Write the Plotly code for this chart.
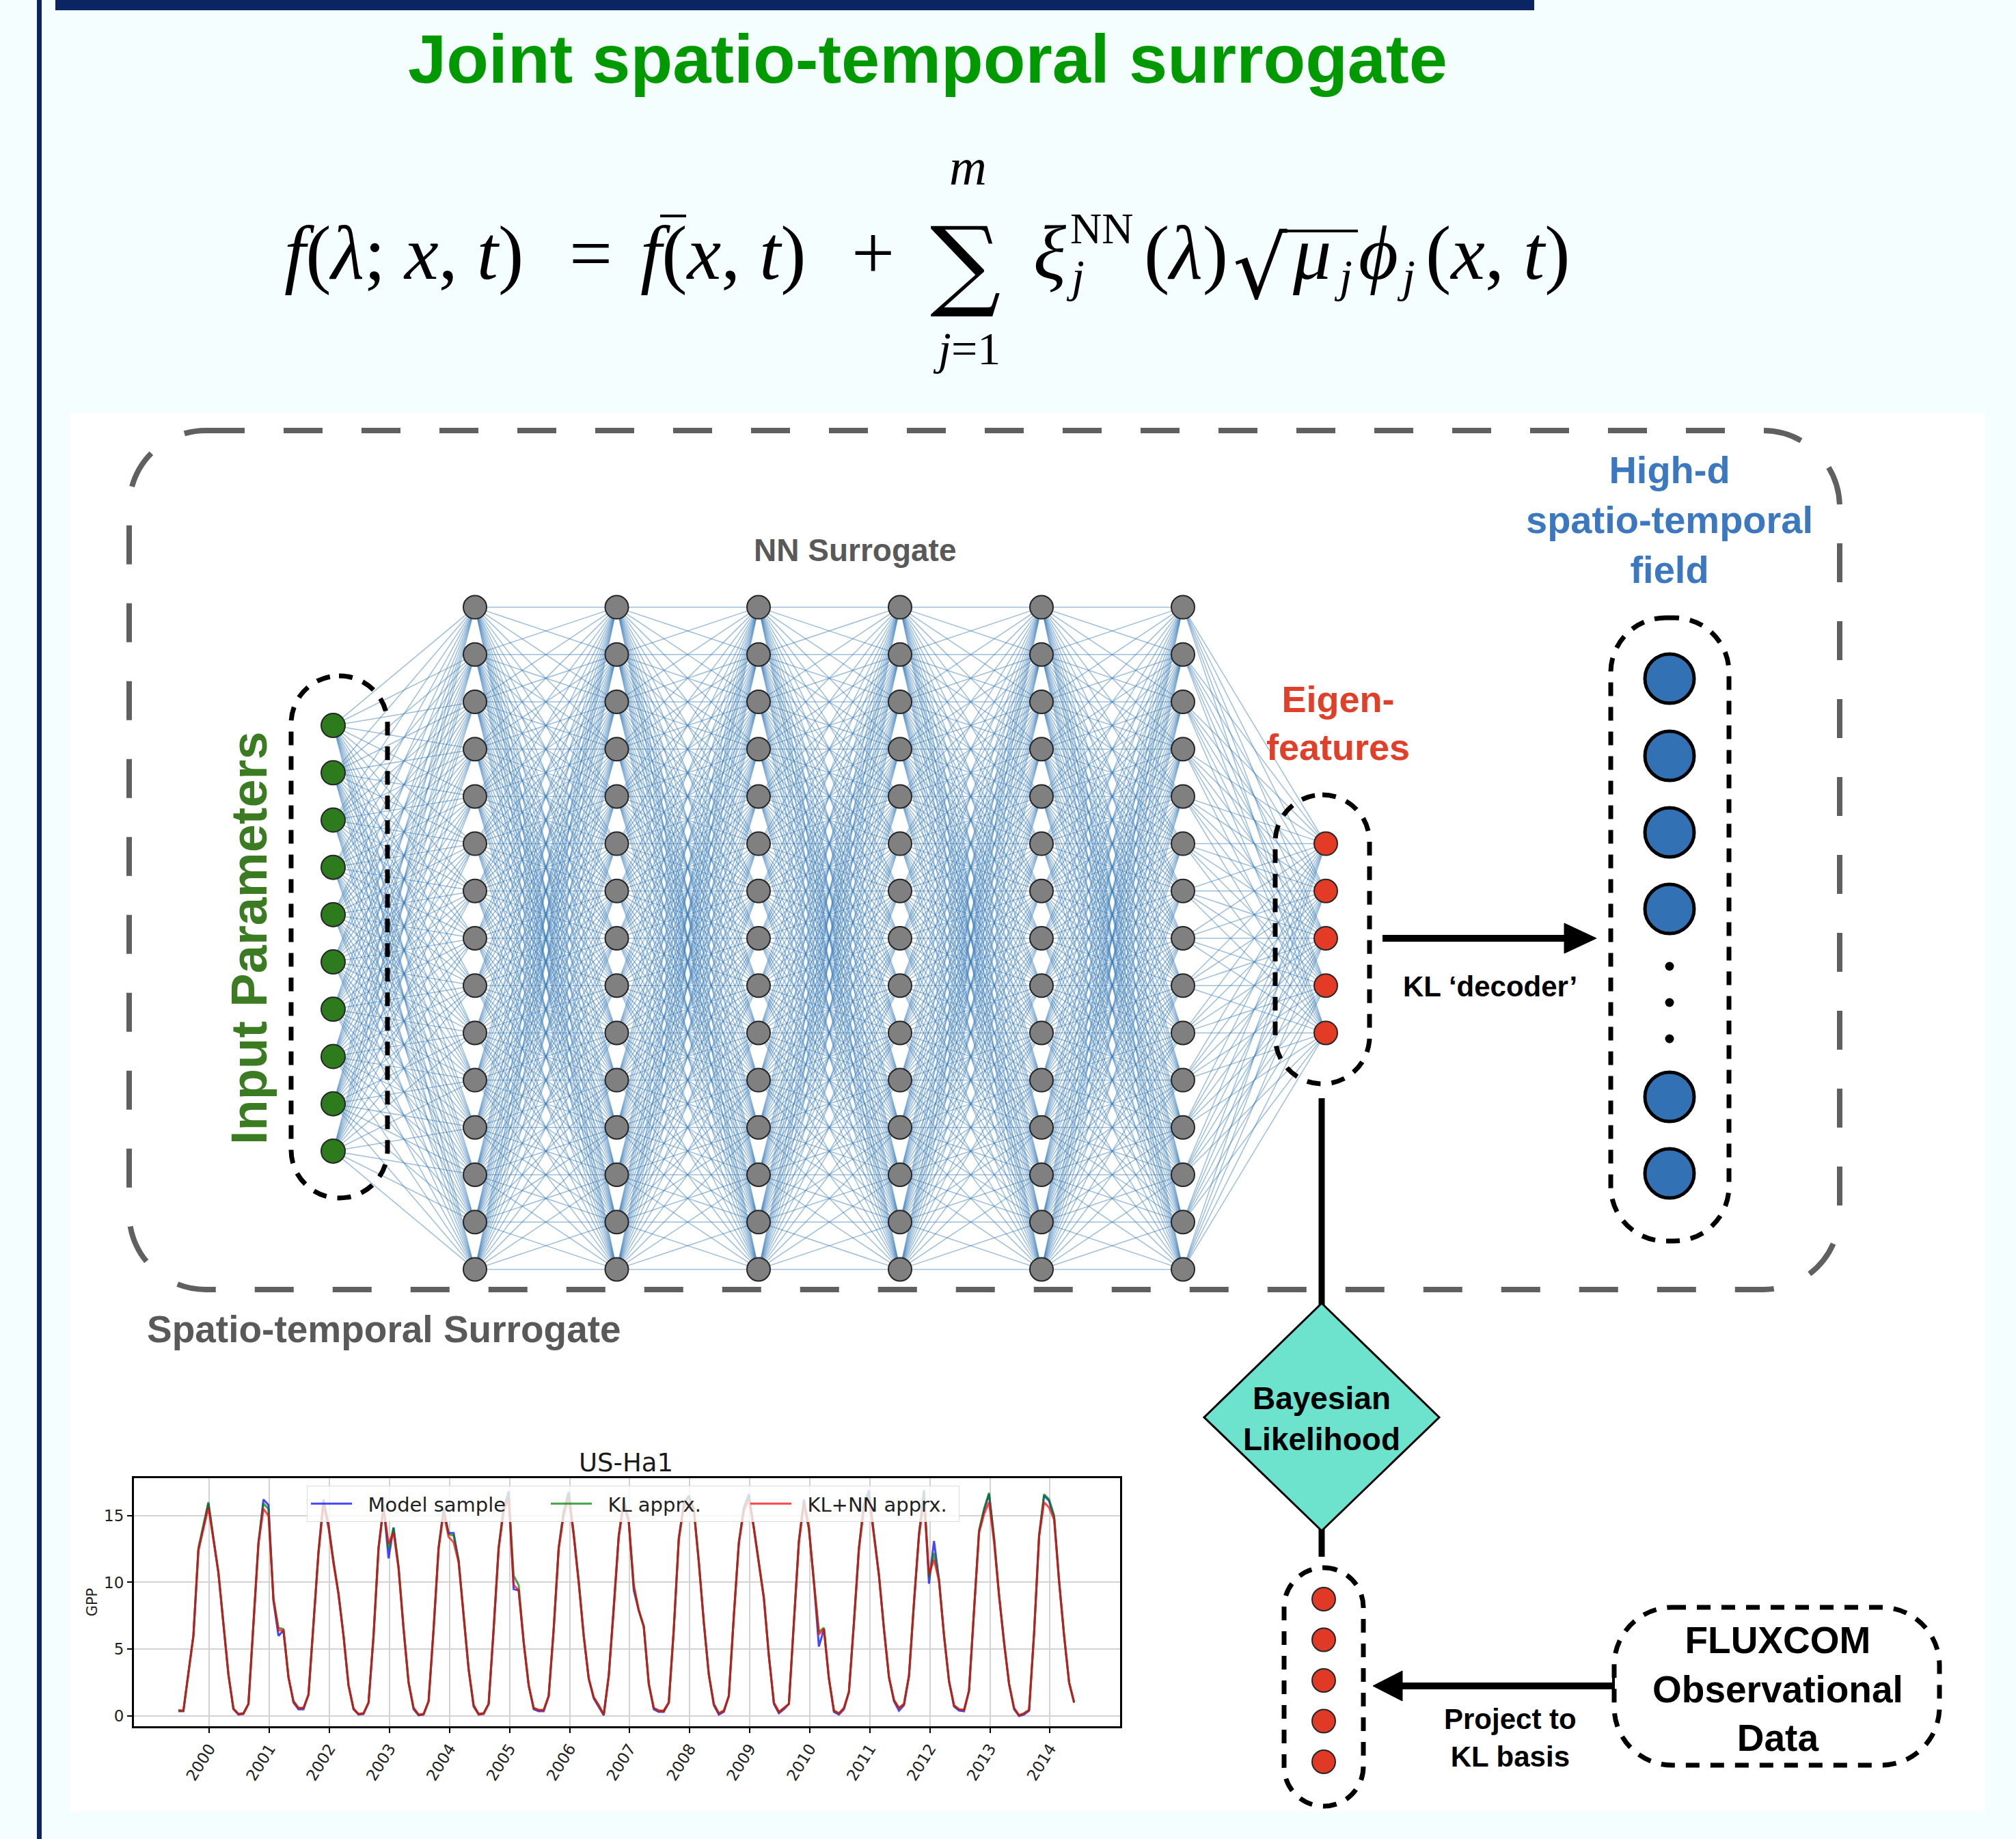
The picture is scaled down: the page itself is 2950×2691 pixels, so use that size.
import plotly.graph_objects as go

W, H = 2950, 2691

# ---------------- data ----------------
layer_sizes = [10, 15, 15, 15, 15, 15, 15, 5]      # input, 6 hidden, eigen-features
field_nodes = 6                                      # drawn high-d nodes (4 + dots + 2)
field_dots = 3
observed_nodes = 5

years = list(range(2000, 2015))
year_labels = [str(y) for y in years]
gpp_ticks = [0, 5, 10, 15]
gpp_tick_labels = ["0", "5", "10", "15"]
first_month = 1999.485     # decimal year of first monthly sample

model_sample = [
    0.35, 0.35, 3.2, 6.0, 12.4, 14.1, 15.9, 13.3, 10.7, 6.9, 3.1, 0.5,
    0.1, 0.15, 0.9, 6.9, 12.9, 16.2, 15.8, 8.6, 6.0, 6.4, 2.9, 1.0,
    0.5, 0.5, 1.6, 6.9, 12.3, 16.2, 14.3, 11.5, 9.1, 6.0, 2.3, 0.5,
    0.1, 0.15, 1.0, 6.0, 12.6, 15.8, 11.8, 14.1, 11.1, 6.5, 2.5, 0.5,
    0.05, 0.1, 1.1, 6.5, 12.6, 15.5, 13.7, 13.7, 11.6, 7.5, 3.5, 0.7,
    0.1, 0.15, 0.9, 6.5, 12.6, 15.6, 16.8, 9.5, 9.4, 5.5, 2.3, 0.5,
    0.35, 0.35, 1.5, 6.5, 12.6, 15.3, 16.7, 13.6, 10.0, 6.0, 2.8, 1.3,
    0.7, 0.05, 3.0, 8.0, 13.5, 16.2, 14.6, 9.4, 7.9, 6.7, 2.4, 0.5,
    0.3, 0.3, 1.0, 6.5, 13.3, 15.9, 16.5, 15.5, 11.5, 7.0, 3.1, 0.8,
    0.1, 0.3, 1.5, 7.5, 13.0, 15.6, 16.6, 14.1, 11.5, 8.8, 4.5, 0.9,
    0.2, 0.5, 0.9, 7.0, 13.1, 16.2, 14.1, 10.0, 5.2, 6.5, 2.8, 0.3,
    0.1, 0.5, 1.8, 7.0, 12.6, 15.9, 16.9, 13.6, 10.5, 6.5, 2.9, 1.1,
    0.4, 0.8, 3.0, 8.5, 13.6, 16.9, 9.9, 13.1, 10.2, 6.0, 2.6, 0.7,
    0.4, 0.35, 1.9, 7.9, 13.8, 15.4, 16.6, 13.3, 9.0, 5.5, 2.4, 0.5,
    0.0, 0.1, 0.4, 6.2, 13.5, 16.5, 16.1, 14.9, 10.1, 6.0, 2.5, 1.0,
]
kl_apprx = [
    0.4, 0.4, 3.2, 6.0, 12.6, 14.3, 16.0, 13.3, 10.8, 6.9, 3.1, 0.55,
    0.15, 0.2, 0.9, 6.9, 13.0, 15.9, 15.5, 8.7, 6.6, 6.5, 2.9, 1.1,
    0.6, 0.6, 1.6, 6.9, 12.3, 16.2, 14.3, 11.6, 9.2, 6.0, 2.3, 0.55,
    0.15, 0.2, 1.0, 6.0, 12.6, 15.7, 12.5, 14.1, 11.2, 6.6, 2.5, 0.6,
    0.1, 0.15, 1.1, 6.5, 12.6, 15.4, 13.6, 13.5, 11.7, 7.6, 3.5, 0.8,
    0.15, 0.2, 0.9, 6.5, 12.6, 15.5, 16.6, 10.5, 9.8, 5.6, 2.3, 0.6,
    0.45, 0.45, 1.5, 6.5, 12.6, 15.3, 16.8, 13.7, 10.1, 6.0, 2.8, 1.4,
    0.8, 0.1, 3.0, 8.0, 13.5, 16.1, 14.6, 9.7, 7.9, 6.7, 2.4, 0.6,
    0.4, 0.4, 1.0, 6.5, 13.3, 15.8, 16.4, 15.5, 11.6, 7.0, 3.1, 0.9,
    0.2, 0.4, 1.5, 7.5, 13.0, 15.5, 16.5, 14.1, 11.6, 8.9, 4.5, 1.0,
    0.3, 0.6, 0.9, 7.0, 13.1, 16.1, 14.1, 10.1, 6.3, 6.6, 2.8, 0.4,
    0.2, 0.6, 1.8, 7.0, 12.6, 15.8, 16.6, 13.6, 10.6, 6.5, 2.9, 1.2,
    0.6, 0.9, 3.0, 8.5, 13.6, 16.8, 10.4, 12.2, 10.2, 6.1, 2.6, 0.8,
    0.5, 0.45, 1.9, 7.9, 13.9, 15.5, 16.7, 13.4, 9.1, 5.5, 2.4, 0.6,
    0.05, 0.2, 0.45, 6.2, 13.5, 16.6, 16.2, 15.0, 10.1, 6.0, 2.5, 1.0,
]
kl_nn_apprx = [
    0.45, 0.40, 3.2, 6.0, 12.4, 14.0, 15.6, 13.2, 10.7, 6.9, 3.1, 0.55,
    0.15, 0.20, 0.9, 6.9, 12.9, 15.5, 15.0, 8.8, 6.4, 6.4, 2.9, 1.1,
    0.6, 0.6, 1.6, 6.9, 12.2, 15.8, 14.1, 11.4, 9.1, 6.0, 2.3, 0.55,
    0.15, 0.2, 1.0, 6.0, 12.5, 15.5, 12.9, 13.7, 11.0, 6.5, 2.5, 0.6,
    0.1, 0.15, 1.1, 6.5, 12.5, 15.2, 13.4, 13.0, 11.5, 7.5, 3.5, 0.8,
    0.15, 0.2, 0.9, 6.5, 12.5, 15.3, 16.3, 9.8, 9.4, 5.5, 2.3, 0.6,
    0.45, 0.45, 1.5, 6.5, 12.5, 15.0, 16.3, 13.5, 10.0, 6.0, 2.8, 1.4,
    0.8, 0.1, 3.0, 8.0, 13.4, 15.8, 14.5, 9.8, 7.9, 6.7, 2.4, 0.6,
    0.4, 0.4, 1.0, 6.5, 13.2, 15.6, 16.0, 15.4, 11.5, 7.0, 3.1, 0.9,
    0.2, 0.4, 1.5, 7.5, 12.9, 15.3, 16.2, 14.0, 11.5, 8.8, 4.5, 1.0,
    0.3, 0.6, 0.9, 7.0, 13.0, 15.8, 14.0, 10.0, 6.1, 6.5, 2.8, 0.4,
    0.2, 0.6, 1.8, 7.0, 12.5, 15.5, 16.2, 13.5, 10.5, 6.5, 2.9, 1.2,
    0.6, 0.9, 3.0, 8.5, 13.5, 16.0, 10.6, 11.7, 10.1, 6.0, 2.6, 0.8,
    0.5, 0.45, 1.9, 7.9, 13.7, 15.1, 16.0, 13.0, 9.0, 5.5, 2.4, 0.6,
    0.05, 0.2, 0.45, 6.2, 13.4, 16.0, 15.6, 14.7, 10.0, 6.0, 2.5, 1.0,
]
series_names = ["Model sample", "KL apprx.", "KL+NN apprx."]
series_colors = ["rgba(0,0,255,0.72)", "rgba(0,128,0,0.72)", "rgba(255,0,0,0.72)"]

# ---------------- styling / geometry ----------------
SANS = "Liberation Sans, Arial, sans-serif"
SERIF = "Liberation Serif, Times New Roman, serif"
NAVY = "#0b2563"
BG = "#f5fefe"
legend_entry_px = [276, 217, 235]
NBSP = "\u00a0\u00a0"

layer_x = [487.5, 695, 902.5, 1110, 1317, 1524, 1731, 1940]
node_gap = 69.2
net_cy = 1373
layer_fill = ["#2e7b1e"] + ["#808080"] * 6 + ["#e33b26"]
layer_size_px = [35] + [34] * 6 + [34]


def layer_ys(n):
    return [net_cy + (j - (n - 1) / 2) * node_gap for j in range(n)]


def rrect(x0, y0, x1, y1, r):
    k = 0.4477 * r
    return (f"M{x0+r},{y0} L{x1-r},{y0} C{x1-k},{y0} {x1},{y0+k} {x1},{y0+r} "
            f"L{x1},{y1-r} C{x1},{y1-k} {x1-k},{y1} {x1-r},{y1} "
            f"L{x0+r},{y1} C{x0+k},{y1} {x0},{y1-k} {x0},{y1-r} "
            f"L{x0},{y0+r} C{x0},{y0+k} {x0+k},{y0} {x0+r},{y0} Z")


fig = go.Figure()

# connections
cx, cy = [], []
for li in range(len(layer_sizes) - 1):
    ya = layer_ys(layer_sizes[li])
    yb = layer_ys(layer_sizes[li + 1])
    for a in ya:
        for b in yb:
            cx += [layer_x[li], layer_x[li + 1], None]
            cy += [a, b, None]
fig.add_trace(go.Scatter(x=cx, y=cy, mode="lines", hoverinfo="skip", showlegend=False,
                         line=dict(color="rgba(60,125,185,0.50)", width=1.5)))

# network nodes
for li, n in enumerate(layer_sizes):
    ys = layer_ys(n)
    fig.add_trace(go.Scatter(x=[layer_x[li]] * n, y=ys, mode="markers", hoverinfo="skip",
                             showlegend=False,
                             marker=dict(size=layer_size_px[li], color=layer_fill[li],
                                         line=dict(color="#262626", width=2))))

# high-d field nodes
field_x = 2443
field_y = [993, 1106, 1218, 1330, 1605, 1717][:field_nodes]
dot_y = [1414, 1467, 1520][:field_dots]
fig.add_trace(go.Scatter(x=[field_x] * len(field_y), y=field_y, mode="markers", hoverinfo="skip",
                         showlegend=False,
                         marker=dict(size=72, color="#3171b4", line=dict(color="black", width=5))))
fig.add_trace(go.Scatter(x=[field_x] * len(dot_y), y=dot_y, mode="markers", hoverinfo="skip",
                         showlegend=False, marker=dict(size=13, color="black")))

# observed eigen-features (projected)
obs_y = [2340 + 59.5 * j for j in range(observed_nodes)]
fig.add_trace(go.Scatter(x=[1937] * observed_nodes, y=obs_y, mode="markers", hoverinfo="skip",
                         showlegend=False,
                         marker=dict(size=34, color="#e03a26", line=dict(color="#262626", width=2))))

# inset time series
t = [first_month + i / 12 for i in range(len(model_sample))]
for name, vals, col, lw in zip(series_names, [model_sample, kl_apprx, kl_nn_apprx],
                               series_colors, legend_entry_px):
    fig.add_trace(go.Scatter(x=t, y=vals, mode="lines", name=NBSP + name, xaxis="x2", yaxis="y2",
                             line=dict(color=col, width=3), hoverinfo="skip", legendwidth=lw))

# ---------------- shapes ----------------
shapes = []
shapes.append(dict(type="rect", x0=103, x1=2905, y0=604, y1=2651, xref="x", yref="y",
                   fillcolor="white", line=dict(width=0), layer="below"))
shapes.append(dict(type="rect", x0=81, x1=2245, y0=0, y1=15, xref="x", yref="y",
                   fillcolor=NAVY, line=dict(width=0), layer="below"))
shapes.append(dict(type="rect", x0=54, x1=61, y0=0, y1=H, xref="x", yref="y",
                   fillcolor=NAVY, line=dict(width=0), layer="below"))
# outer dashed surrogate box
shapes.append(dict(type="path", path=rrect(189, 630, 2692, 1887, 112), xref="x", yref="y",
                   line=dict(color="#606060", width=8, dash="57px,57px"), layer="below"))
# dashed capsules
for (x0, y0, x1, y1, r) in [(426, 989, 567, 1753, 70), (1866, 1163, 2004, 1586, 69),
                            (2357, 904, 2530, 1816, 80), (1879, 2294, 1995, 2643, 58),
                            (2362, 2352, 2838, 2583, 85)]:
    shapes.append(dict(type="path", path=rrect(x0, y0, x1, y1, r), xref="x", yref="y",
                       line=dict(color="black", width=7, dash="20px,16px"), layer="above"))
# connectors
shapes.append(dict(type="line", x0=1934, x1=1934, y0=1607, y1=1910, xref="x", yref="y",
                   line=dict(color="black", width=9), layer="above"))
shapes.append(dict(type="line", x0=1934, x1=1934, y0=2236, y1=2278, xref="x", yref="y",
                   line=dict(color="black", width=9), layer="above"))
# diamond
shapes.append(dict(type="path", path="M1934,1907 L2106,2074 L1934,2240 L1762,2074 Z",
                   xref="x", yref="y", fillcolor="#6de3cd", line=dict(color="black", width=3),
                   layer="above"))
# KL decoder arrow
shapes.append(dict(type="line", x0=2023, x1=2295, y0=1373, y1=1373, xref="x", yref="y",
                   line=dict(color="black", width=10), layer="above"))
shapes.append(dict(type="path", path="M2289,1351 L2336,1373 L2289,1395 Z", xref="x", yref="y",
                   fillcolor="black", line=dict(color="black", width=1), layer="above"))
# project arrow
shapes.append(dict(type="line", x0=2362, x1=2048, y0=2467, y1=2467, xref="x", yref="y",
                   line=dict(color="black", width=10), layer="above"))
shapes.append(dict(type="line", x0=2361, x1=2361, y0=2455, y1=2480, xref="x", yref="y",
                   line=dict(color="black", width=4), layer="above"))
shapes.append(dict(type="path", path="M2052,2445 L2009,2467 L2052,2489 Z", xref="x", yref="y",
                   fillcolor="black", line=dict(color="black", width=1), layer="above"))
# formula bars (f-bar and square-root overline)
shapes.append(dict(type="line", x0=966, x1=1004, y0=316, y1=316, xref="x", yref="y",
                   line=dict(color="black", width=4), layer="above"))
shapes.append(dict(type="line", x0=1876, x1=1987, y0=338, y1=338, xref="x", yref="y",
                   line=dict(color="black", width=4), layer="above"))


def txt(x, y, s, size, color="black", family=SANS, xanchor="center", yanchor="middle", angle=0):
    fig.add_annotation(x=x, y=y, xref="x", yref="y", text=s, showarrow=False,
                       font=dict(size=size, color=color, family=family),
                       xanchor=xanchor, yanchor=yanchor, textangle=angle)


# title
txt(1357, 86, "<b>Joint spatio-temporal surrogate</b>", 101, color="#009a00")

# formula
FS = 112
YM = 370
txt(414, YM, "<i>f</i>(<i>λ</i>; <i>x</i>, <i>t</i>)", FS, family=SERIF, xanchor="left")
txt(864, YM, "=", FS, family=SERIF)
txt(935, YM, "<i>f</i>(<i>x</i>, <i>t</i>)", FS, family=SERIF, xanchor="left")
txt(1277, YM, "+", FS, family=SERIF)
txt(1413, 384, "∑", 145, family="DejaVu Serif, serif")
txt(1416, 244, "<i>m</i>", 76, family=SERIF)
txt(1414, 510, "<i>j</i>=1", 68, family=SERIF)
txt(1510, YM, "<i>ξ</i>", FS, family=SERIF, xanchor="left")
txt(1564, 334, "NN", 64, family=SERIF, xanchor="left")
txt(1558, 404, "<i>j</i>", 68, family=SERIF, xanchor="left")
txt(1672, YM, "(<i>λ</i>)", FS, family=SERIF, xanchor="left")
txt(1802, 392, "√", 125, family="DejaVu Serif, serif", xanchor="left")
txt(1889, YM, "<i>μ</i>", FS, family=SERIF, xanchor="left")
txt(1950, 404, "<i>j</i>", 68, family=SERIF, xanchor="left")
txt(1986, YM, "<i>ϕ</i>", FS, family=SERIF, xanchor="left")
txt(2042, 404, "<i>j</i>", 68, family=SERIF, xanchor="left")
txt(2084, YM, "(<i>x</i>, <i>t</i>)", FS, family=SERIF, xanchor="left")

# diagram labels
txt(1251, 805, "<b>NN Surrogate</b>", 46, color="#595959")
txt(213, 1945, "<b>Spatio-temporal Surrogate</b>", 55, color="#595959", xanchor="left")
txt(1958, 1058, "<b>Eigen-<br>features</b>", 54, color="#e0402a")
txt(2443, 760, "<b>High-d<br>spatio-temporal<br>field</b>", 56, color="#3b78bf")
txt(364, 1373, "<b>Input Parameters</b>", 74, color="#3b7b22", angle=-90)
txt(2180, 1443, "<b>KL ‘decoder’</b>", 42)
txt(1934, 2076, "<b>Bayesian<br>Likelihood</b>", 46)
txt(2601, 2471, "<b>FLUXCOM<br>Observational<br>Data</b>", 55)
txt(2210, 2543, "<b>Project to<br>KL basis</b>", 42)
txt(916, 2140, "US-Ha1", 37, color="#1a1a1a", family="DejaVu Sans, sans-serif")

fig.update_layout(
    width=W, height=H, autosize=False,
    margin=dict(l=0, r=0, t=0, b=0, pad=0),
    paper_bgcolor=BG, plot_bgcolor="rgba(0,0,0,0)",
    shapes=shapes,
    xaxis=dict(range=[0, W], visible=False, domain=[0, 1], fixedrange=True),
    yaxis=dict(range=[H, 0], visible=False, domain=[0, 1], fixedrange=True),
    xaxis2=dict(domain=[196 / W, 1639 / W], anchor="y2", range=[1998.745, 2015.167],
                tickvals=years, ticktext=year_labels, tickangle=-58,
                showgrid=True, gridcolor="#d3d3d3", gridwidth=2, zeroline=False,
                showline=True, mirror=True, linecolor="black", linewidth=3,
                ticks="outside", ticklen=7, tickwidth=2, tickcolor="black",
                tickfont=dict(size=23, family="DejaVu Sans, sans-serif", color="#222")),
    yaxis2=dict(domain=[1 - 2526 / H, 1 - 2163 / H], anchor="x2", range=[-0.77, 17.8],
                tickvals=gpp_ticks, ticktext=gpp_tick_labels,
                showgrid=True, gridcolor="#d3d3d3", gridwidth=2, zeroline=False,
                showline=True, mirror=True, linecolor="black", linewidth=3,
                ticks="outside", ticklen=7, tickwidth=2, tickcolor="black",
                tickfont=dict(size=23, family="DejaVu Sans, sans-serif", color="#222"),
                title=dict(text="GPP", font=dict(size=21, family="DejaVu Sans, sans-serif",
                                                 color="#222"), standoff=4)),
    showlegend=True,
    legend=dict(orientation="h", x=449 / W, y=1 - 2174 / H, xanchor="left", yanchor="top",
                bgcolor="rgba(255,255,255,0.8)", bordercolor="#dddddd", borderwidth=1,
                font=dict(size=29, family="DejaVu Sans, sans-serif", color="#222"),
                itemwidth=60, entrywidthmode="pixels"),
)

fig.write_html("out.html", config={"displayModeBar": False},
               post_script="document.body.style.margin='0';")
